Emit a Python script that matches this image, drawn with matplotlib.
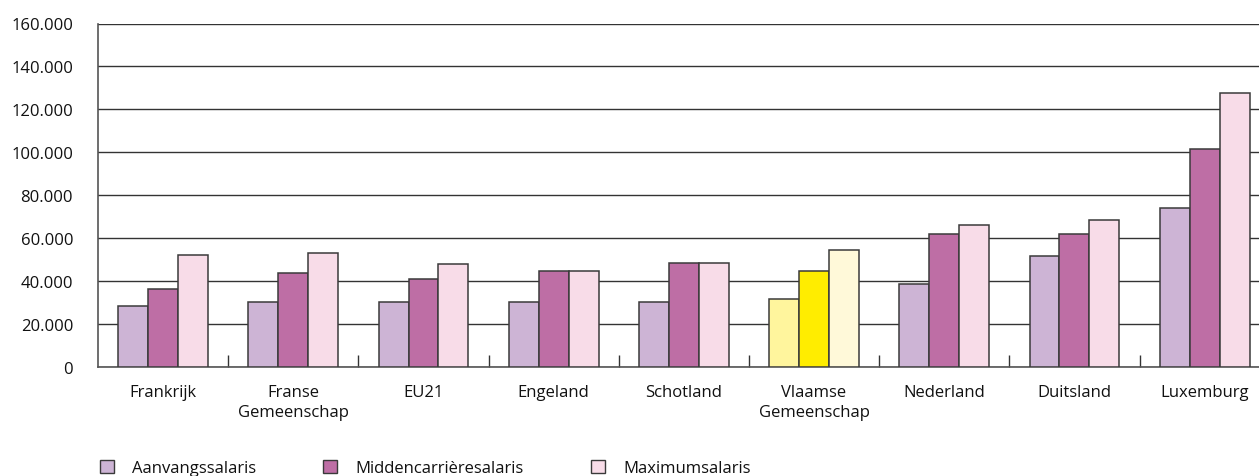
import matplotlib
matplotlib.use("Agg")
import matplotlib.pyplot as plt
import numpy as np
from matplotlib.ticker import FuncFormatter

categories = ["Frankrijk", "Franse\nGemeenschap", "EU21", "Engeland", "Schotland",
              "Vlaamse\nGemeenschap", "Nederland", "Duitsland", "Luxemburg"]
series_names = ["Aanvangssalaris", "Middencarrièresalaris", "Maximumsalaris"]
aanvang = [28200, 30500, 30500, 30500, 30500, 31800, 38600, 51500, 73900]
midden = [36100, 43600, 40800, 44700, 48600, 44700, 62100, 62100, 101600]
maximum = [52100, 52900, 47800, 44700, 48600, 54300, 66200, 68700, 127700]
yticks = [0, 20000, 40000, 60000, 80000, 100000, 120000, 140000, 160000]

colors = ["#CDB4D5", "#BE6EA5", "#F8DCE8"]
highlight_colors = ["#FFF59D", "#FFED00", "#FFF9D9"]
highlight = "Vlaamse\nGemeenschap"

plt.rcParams['font.family'] = ['Open Sans', 'DejaVu Sans']

fig = plt.figure(figsize=(12.59, 4.77), dpi=100)
ax = fig.add_axes([98/1259, 1-368/477, (1269.7-98)/1259, (368-24.5)/477])

x = np.arange(len(categories))
w = 0.23
data = [aanvang, midden, maximum]
handles = []
for i, vals in enumerate(data):
    cols = [highlight_colors[i] if c == highlight else colors[i] for c in categories]
    ax.bar(x + (i-1)*w, vals, w, color=cols, edgecolor="#3a3a3a", linewidth=1.1, zorder=3)
    handles.append(plt.Rectangle((0, 0), 1, 1, facecolor=colors[i], edgecolor="#3a3a3a", linewidth=1.0))

ax.set_xlim(-0.5, len(categories)-0.5)
ax.set_ylim(0, 160000)
ax.set_yticks(yticks)
ax.yaxis.set_major_formatter(FuncFormatter(lambda v, p: f"{int(v):,}".replace(",", ".")))
ax.yaxis.grid(True, color="#333333", linewidth=1.0, zorder=0)
ax.set_axisbelow(True)
ax.tick_params(axis='y', length=0, pad=18, labelsize=12, labelcolor="#111111")
ax.set_xticks(x)
ax.set_xticklabels(categories, linespacing=1.4)
ax.tick_params(axis='x', which='major', length=0, pad=12, labelsize=12, labelcolor="#111111")
ax.set_xticks(np.arange(len(categories)-1) + 0.5, minor=True)
ax.tick_params(axis='x', which='minor', direction='in', length=8.5, width=1.0, color="#333333")
for s in ["top", "right"]:
    ax.spines[s].set_visible(False)
for s in ["left", "bottom"]:
    ax.spines[s].set_color("#555555")
    ax.spines[s].set_linewidth(1.2)

fig.legend(handles, series_names, loc="center left", bbox_to_anchor=(85/1259, 1-469/477),
           ncol=3, frameon=False, fontsize=12, handlelength=0.85, handleheight=0.85,
           handletextpad=1.1, columnspacing=4.0, labelcolor="#111111")

fig.savefig("out.png", dpi=100)
